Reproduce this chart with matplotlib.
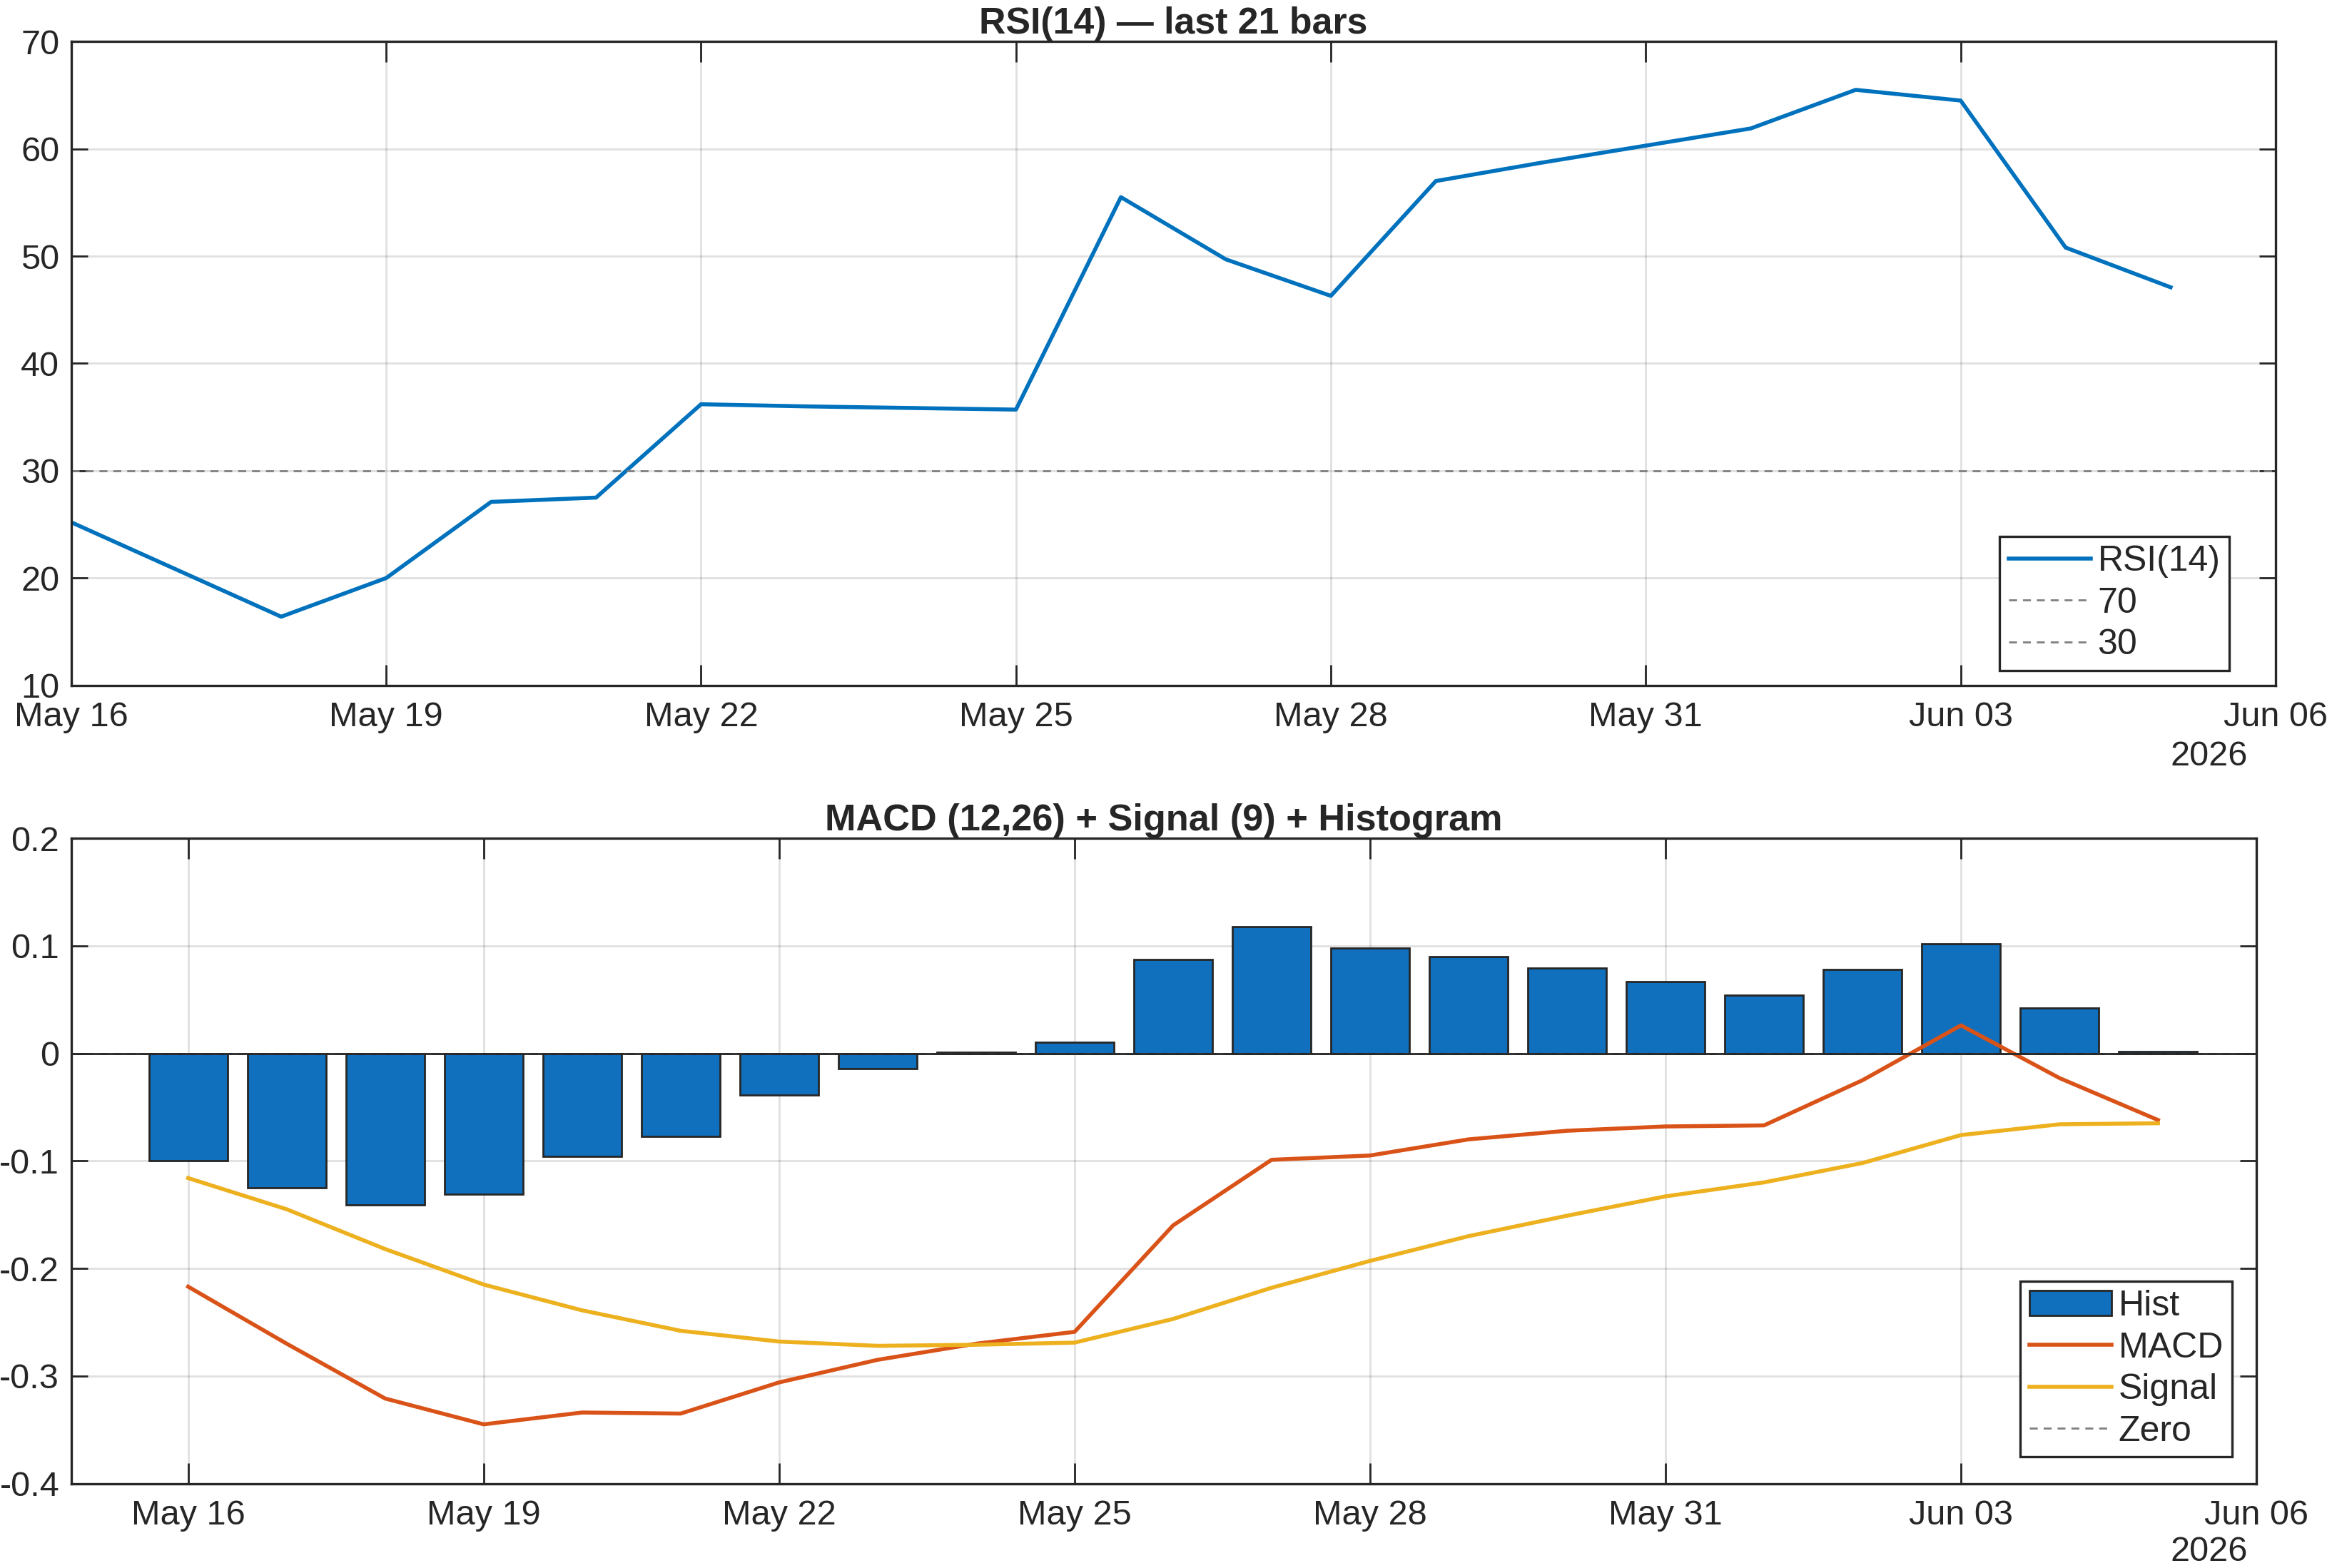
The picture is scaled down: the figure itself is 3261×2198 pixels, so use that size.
import matplotlib
matplotlib.use("Agg")
import matplotlib.pyplot as plt
import matplotlib.dates as mdates
import numpy as np
import pandas as pd

# данные (21 бар)
dates = pd.date_range("2026-05-16", "2026-06-05", freq="D")
rsi = [25.2, 20.8, 16.4, 20.0, 27.1, 27.5, 36.2, 36.0, 35.85, 35.7, 55.5,
       49.7, 46.3, 57.0, 58.7, 60.3, 61.9, 65.5, 64.5, 50.8, 47.1]
macd = [-0.217, -0.270, -0.321, -0.345, -0.334, -0.335, -0.306, -0.285,
        -0.270, -0.259, -0.160, -0.099, -0.095, -0.080, -0.072, -0.068,
        -0.067, -0.025, 0.026, -0.023, -0.062]
signal = [-0.116, -0.145, -0.182, -0.215, -0.239, -0.258, -0.268, -0.272,
          -0.271, -0.269, -0.247, -0.218, -0.193, -0.170, -0.151, -0.133,
          -0.120, -0.102, -0.076, -0.066, -0.065]
hist = [-0.100, -0.125, -0.141, -0.131, -0.096, -0.077, -0.039, -0.014,
        0.001, 0.010, 0.087, 0.118, 0.098, 0.090, 0.079, 0.067, 0.054,
        0.078, 0.102, 0.042, 0.002]
tick_dates = pd.to_datetime(["2026-05-16", "2026-05-19", "2026-05-22", "2026-05-25",
                             "2026-05-28", "2026-05-31", "2026-06-03", "2026-06-06"])

BLUE = "#0072BD"
BAR = "#1170BE"
ORANGE = "#D95319"
YELLOW = "#EDB120"
DARK = "#262626"

plt.rcParams["font.family"] = ["Liberation Sans", "DejaVu Sans"]
plt.rcParams["font.size"] = 17.5
plt.rcParams["text.color"] = DARK


def style_axes(ax):
    for s in ax.spines.values():
        s.set_color(DARK)
        s.set_linewidth(1.2)
    ax.tick_params(direction="in", top=True, right=True, colors=DARK,
                   labelsize=17.5, width=1.0)
    ax.tick_params(axis="x", length=10.5, pad=8)
    ax.tick_params(axis="y", length=8.4, pad=6)
    ax.grid(True, color="#000000", alpha=0.12, linewidth=1.0)
    ax.set_axisbelow(True)
    ax.set_xticks(tick_dates)
    ax.xaxis.set_major_formatter(mdates.DateFormatter("%b %d"))


leg_kw = dict(loc="lower right", fancybox=False, edgecolor=DARK, framealpha=1,
              fontsize=18, handlelength=2.3, handletextpad=0.2, labelspacing=0.25,
              borderpad=0.25, borderaxespad=0)

fig = plt.figure(figsize=(16.31, 10.99), dpi=200)

# --- RSI ---
ax1 = fig.add_axes([0.0306, 0.5629, 0.947, 0.4106])
ax1.plot(dates, rsi, color=BLUE, lw=2.0, label="RSI(14)")
ax1.axhline(70, color="#808080", lw=1.0, ls=(0, (4, 3)), label="70")
ax1.axhline(30, color="#808080", lw=1.0, ls=(0, (4, 3)), label="30")
ax1.set_ylim(10, 70)
ax1.set_yticks(np.arange(10, 71, 10))
ax1.set_xlim(pd.Timestamp("2026-05-16"), pd.Timestamp("2026-06-06"))
style_axes(ax1)
ax1.set_title("RSI(14) — last 21 bars", fontsize=18.7, fontweight="bold", pad=4)
leg1 = ax1.legend(bbox_to_anchor=(0.979, 0.023), **leg_kw)
leg1.get_frame().set_linewidth(1.2)

# --- MACD ---
ax2 = fig.add_axes([0.0306, 0.0539, 0.9388, 0.4115])
h_bar = ax2.bar(dates, hist, width=0.8, color=BAR, edgecolor=DARK, linewidth=1.0, label="Hist")
h_macd, = ax2.plot(dates, macd, color=ORANGE, lw=2.0, label="MACD")
h_sig, = ax2.plot(dates, signal, color=YELLOW, lw=2.0, label="Signal")
h_zero = ax2.axhline(0, color="#808080", lw=1.0, ls=(0, (4, 3)), label="Zero")
ax2.axhline(0, color=DARK, lw=1.0)
ax2.set_ylim(-0.4, 0.2)
ax2.set_yticks(np.round(np.arange(-0.4, 0.21, 0.1), 1))
ax2.yaxis.set_major_formatter(plt.FuncFormatter(lambda v, p: "0" if abs(v) < 1e-9 else f"{v:g}"))
ax2.set_xlim(pd.Timestamp("2026-05-16") - pd.Timedelta(hours=28.5), pd.Timestamp("2026-06-06"))
style_axes(ax2)
ax2.set_title("MACD (12,26) + Signal (9) + Histogram", fontsize=18.8, fontweight="bold", pad=4)
leg2 = ax2.legend([h_bar, h_macd, h_sig, h_zero], ["Hist", "MACD", "Signal", "Zero"],
                  bbox_to_anchor=(0.989, 0.041), **leg_kw)
leg2.get_frame().set_linewidth(1.2)

# подписи года
fig.text(1514 / 1568, 1 - 510 / 1057, "2026", ha="right", va="center", fontsize=17.5)
fig.text(1514 / 1568, 1 - 1046 / 1057, "2026", ha="right", va="center", fontsize=17.5)

fig.savefig("out.png", dpi=200)
